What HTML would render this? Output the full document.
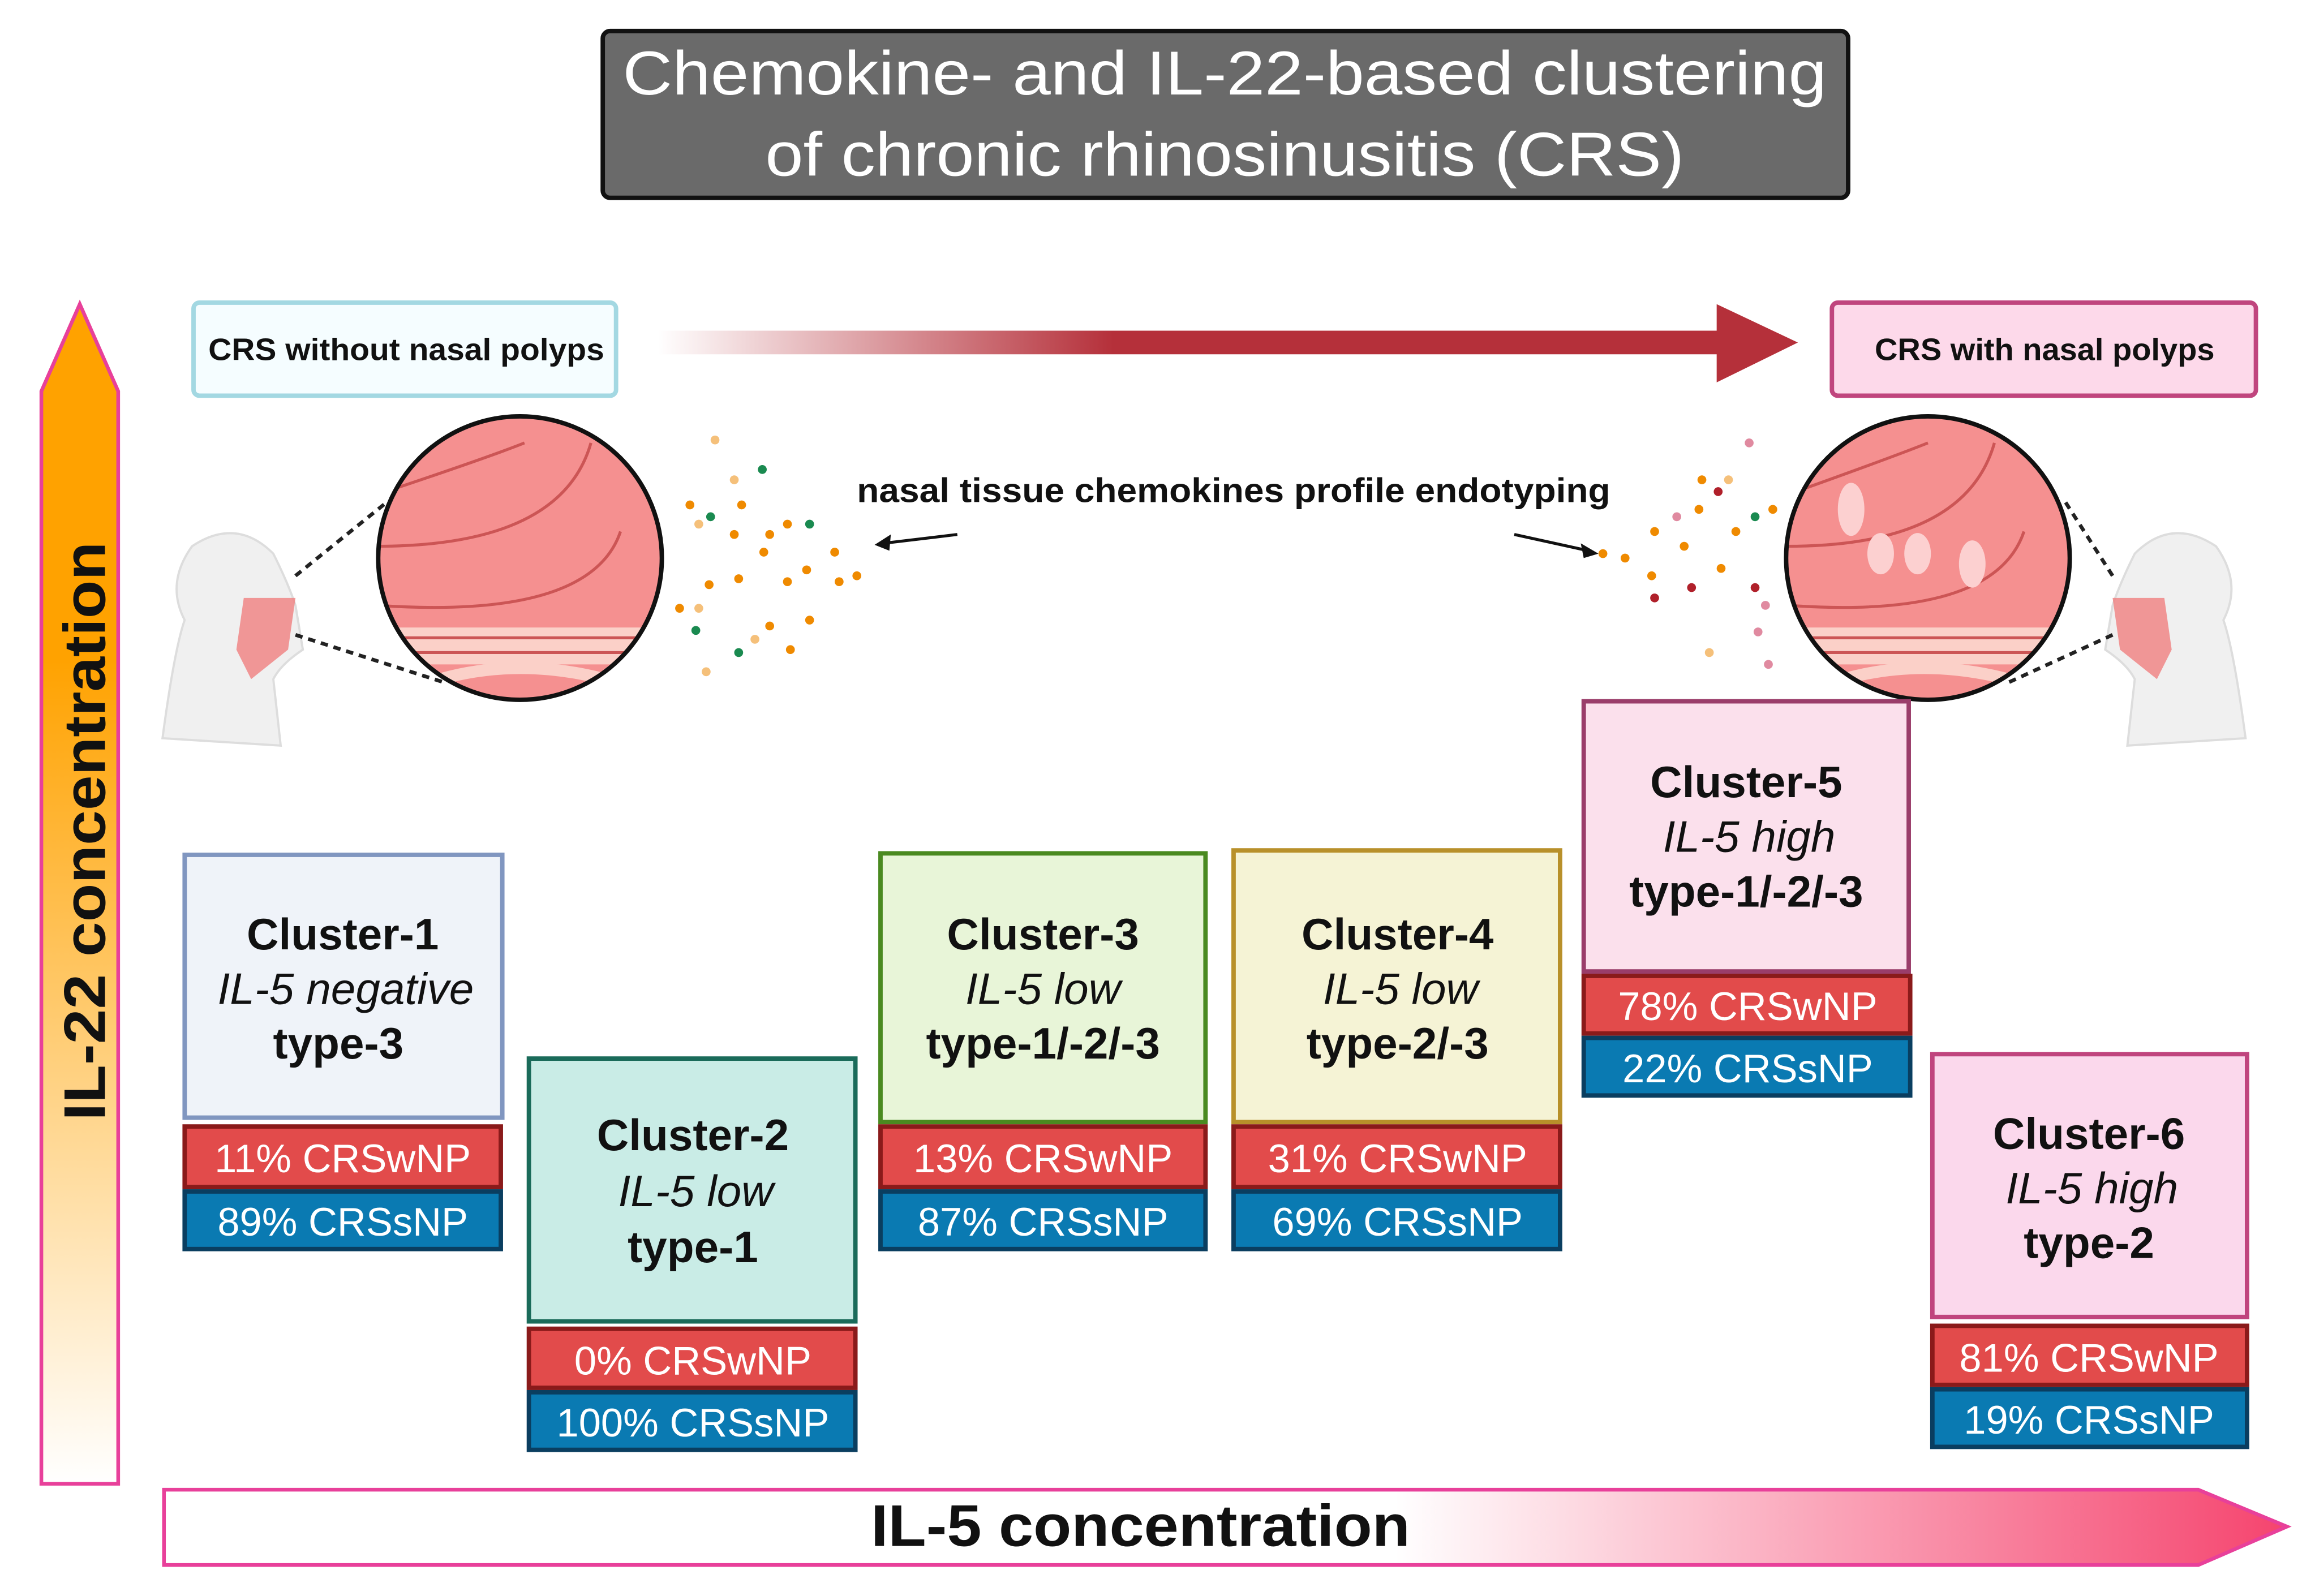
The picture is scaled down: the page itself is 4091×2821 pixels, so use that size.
<!DOCTYPE html>
<html><head><meta charset="utf-8"><style>
html,body{margin:0;padding:0;background:#fff}
svg{display:block}
text{font-family:"Liberation Sans",sans-serif}
</style></head><body>
<svg width="4091" height="2821" viewBox="0 0 1567 1081" preserveAspectRatio="none" xmlns="http://www.w3.org/2000/svg">
<defs>
<linearGradient id="vg" x1="0" y1="0" x2="0" y2="1">
<stop offset="0" stop-color="#ffa200"/><stop offset="0.3" stop-color="#ffa200"/><stop offset="1" stop-color="#ffffff"/></linearGradient>
<linearGradient id="hg" x1="0" y1="0" x2="1" y2="0">
<stop offset="0" stop-color="#fff"/><stop offset="0.58" stop-color="#fff"/><stop offset="1" stop-color="#f5446e"/></linearGradient>
<linearGradient id="rg" x1="0" y1="0" x2="1" y2="0">
<stop offset="0" stop-color="#b5303a" stop-opacity="0"/><stop offset="0.4" stop-color="#b5303a"/><stop offset="1" stop-color="#b5303a"/></linearGradient>
<clipPath id="c1"><ellipse cx="352" cy="378" rx="96" ry="96"/></clipPath>
<clipPath id="c2"><ellipse cx="1305" cy="378" rx="96" ry="96"/></clipPath>
</defs>

<rect x="408" y="21" width="843" height="113" rx="5" fill="#6a6a6a" stroke="#111" stroke-width="3"/>
<text x="829" y="64" font-size="42" fill="#fff" text-anchor="middle" textLength="815" lengthAdjust="spacingAndGlyphs">Chemokine- and IL-22-based clustering</text>
<text x="829" y="119" font-size="42" fill="#fff" text-anchor="middle" textLength="622" lengthAdjust="spacingAndGlyphs">of chronic rhinosinusitis (CRS)</text>

<path d="M28,1005 L28,265 L54,206 L80,265 L80,1005 Z" fill="url(#vg)" stroke="#e8409a" stroke-width="2.5"/>
<text transform="translate(71,563) rotate(-90)" font-size="40" font-weight="bold" text-anchor="middle" fill="#111" textLength="392" lengthAdjust="spacingAndGlyphs">IL-22 concentration</text>

<path d="M111,1009 L1488,1009 L1548,1034 L1488,1060 L111,1060 Z" fill="url(#hg)" stroke="#e8409a" stroke-width="2.5"/>
<text x="772" y="1047" font-size="40" font-weight="bold" text-anchor="middle" fill="#111" textLength="365" lengthAdjust="spacingAndGlyphs">IL-5 concentration</text>

<rect x="131" y="205" width="286" height="63" rx="4" fill="#f5fdff" stroke="#a3d8e2" stroke-width="3"/>
<text x="275" y="244" font-size="21" font-weight="bold" text-anchor="middle" fill="#111" textLength="268" lengthAdjust="spacingAndGlyphs">CRS without  nasal polyps</text>
<rect x="1240" y="205" width="287" height="63" rx="4" fill="#fdd9ea" stroke="#c0457e" stroke-width="3"/>
<text x="1384" y="244" font-size="21" font-weight="bold" text-anchor="middle" fill="#111" textLength="230" lengthAdjust="spacingAndGlyphs">CRS with nasal polyps</text>
<path d="M445,224 L1162,224 L1162,206 L1217,232 L1162,259 L1162,240 L445,240 Z" fill="url(#rg)"/>

<text x="835" y="340" font-size="23" font-weight="bold" text-anchor="middle" fill="#111" textLength="510" lengthAdjust="spacingAndGlyphs">nasal tissue chemokines profile endotyping</text>
<path d="M648,362 L598,368" stroke="#111" stroke-width="2"/><path d="M592,369 L603,362 L602,373 Z" fill="#111"/>
<path d="M1025,362 L1075,373" stroke="#111" stroke-width="2"/><path d="M1082,375 L1070,368 L1072,378 Z" fill="#111"/>

<g fill="#f0f0f0" stroke="#ddd" stroke-width="1.5">
<path d="M110,500 Q118,440 125,420 Q112,395 130,370 Q160,350 185,375 Q195,395 200,410 L205,440 Q190,450 185,460 L190,505 Z"/>
<path d="M1520,500 Q1512,440 1505,420 Q1518,395 1500,370 Q1470,350 1445,375 Q1435,395 1430,410 L1425,440 Q1440,450 1445,460 L1440,505 Z"/>
</g>
<path d="M165,405 L200,405 L195,440 L170,460 L160,440 Z" fill="#f08080" opacity="0.8"/>
<path d="M1465,405 L1430,405 L1435,440 L1460,460 L1470,440 Z" fill="#f08080" opacity="0.8"/>
<path d="M200,390 L262,340 M200,430 L300,462" stroke="#222" stroke-width="2.5" stroke-dasharray="5,4" fill="none"/>
<path d="M1430,390 L1398,340 M1430,430 L1360,462" stroke="#222" stroke-width="2.5" stroke-dasharray="5,4" fill="none"/>

<g clip-path="url(#c1)">
<rect x="250" y="280" width="210" height="200" fill="#f59090"/>
<path d="M255,335 Q330,310 355,300 M255,370 Q380,370 400,300 M255,410 Q400,420 420,360" stroke="#c55" stroke-width="2" fill="none"/>
<path d="M255,425 L450,425 L450,450 L255,450 Z" fill="#fbd0c8"/>
<path d="M255,432 L450,432 M255,442 L450,442" stroke="#c55" stroke-width="2"/>
<path d="M270,470 Q350,435 440,470" stroke="#fbd0c8" stroke-width="8" fill="none"/>
</g>
<ellipse cx="352" cy="378" rx="96" ry="96" fill="none" stroke="#111" stroke-width="3"/>
<g clip-path="url(#c2)">
<rect x="1200" y="280" width="210" height="200" fill="#f59090"/>
<path d="M1210,335 Q1280,310 1305,300 M1210,370 Q1330,370 1350,300 M1210,410 Q1350,420 1370,360" stroke="#c55" stroke-width="2" fill="none"/>
<path d="M1205,425 L1405,425 L1405,450 L1205,450 Z" fill="#fbd0c8"/>
<path d="M1205,432 L1405,432 M1205,442 L1405,442" stroke="#c55" stroke-width="2"/>
<path d="M1220,470 Q1300,435 1390,470" stroke="#fbd0c8" stroke-width="8" fill="none"/>
<ellipse cx="1253" cy="345" rx="9" ry="18" fill="#fcd0d0"/>
<ellipse cx="1273" cy="375" rx="9" ry="14" fill="#fcd0d0"/>
<ellipse cx="1298" cy="375" rx="9" ry="14" fill="#fcd0d0"/>
<ellipse cx="1335" cy="382" rx="9" ry="16" fill="#fcd0d0"/>
</g>
<ellipse cx="1305" cy="378" rx="96" ry="96" fill="none" stroke="#111" stroke-width="3"/>

<g fill="#ef8a00">
<circle cx="467" cy="342" r="3"/><circle cx="497" cy="362" r="3"/><circle cx="517" cy="374" r="3"/><circle cx="500" cy="392" r="3"/><circle cx="521" cy="362" r="3"/><circle cx="480" cy="396" r="3"/><circle cx="533" cy="394" r="3"/><circle cx="565" cy="374" r="3"/><circle cx="546" cy="386" r="3"/><circle cx="568" cy="394" r="3"/><circle cx="580" cy="390" r="3"/><circle cx="460" cy="412" r="3"/><circle cx="521" cy="424" r="3"/><circle cx="548" cy="420" r="3"/><circle cx="535" cy="440" r="3"/><circle cx="502" cy="342" r="3"/><circle cx="533" cy="355" r="3"/>
<circle cx="1150" cy="345" r="3"/><circle cx="1120" cy="360" r="3"/><circle cx="1100" cy="378" r="3"/><circle cx="1140" cy="370" r="3"/><circle cx="1165" cy="385" r="3"/><circle cx="1085" cy="375" r="3"/><circle cx="1118" cy="390" r="3"/><circle cx="1175" cy="360" r="3"/><circle cx="1200" cy="345" r="3"/><circle cx="1152" cy="325" r="3"/>
</g>
<g fill="#f5c07a"><circle cx="484" cy="298" r="3"/><circle cx="497" cy="325" r="3"/><circle cx="473" cy="355" r="3"/><circle cx="473" cy="412" r="3"/><circle cx="511" cy="433" r="3"/><circle cx="478" cy="455" r="3"/><circle cx="1170" cy="325" r="3"/><circle cx="1157" cy="442" r="3"/></g>
<g fill="#1a8a50"><circle cx="516" cy="318" r="3"/><circle cx="481" cy="350" r="3"/><circle cx="548" cy="355" r="3"/><circle cx="500" cy="442" r="3"/><circle cx="471" cy="427" r="3"/><circle cx="1188" cy="350" r="3"/></g>
<g fill="#e08aa0"><circle cx="1184" cy="300" r="3"/><circle cx="1135" cy="350" r="3"/><circle cx="1195" cy="410" r="3"/><circle cx="1190" cy="428" r="3"/><circle cx="1197" cy="450" r="3"/></g>
<g fill="#b0202a"><circle cx="1163" cy="333" r="3"/><circle cx="1145" cy="398" r="3"/><circle cx="1188" cy="398" r="3"/><circle cx="1120" cy="405" r="3"/></g>

<g font-size="30" text-anchor="middle" fill="#111">
<rect x="125" y="579" width="215" height="178" fill="#eff3f9" stroke="#8096c0" stroke-width="3"/>
<text x="232" y="643" font-weight="bold">Cluster-1</text><text x="234" y="680" font-style="italic">IL-5 negative</text><text x="229" y="717" font-weight="bold">type-3</text>
<rect x="358" y="717" width="221" height="178" fill="#c9ece6" stroke="#1a6b5a" stroke-width="3"/>
<text x="469" y="779" font-weight="bold">Cluster-2</text><text x="471" y="817" font-style="italic">IL-5 low</text><text x="469" y="855" font-weight="bold">type-1</text>
<rect x="596" y="578" width="220" height="182" fill="#e8f5d8" stroke="#4a8a20" stroke-width="3"/>
<text x="706" y="643" font-weight="bold">Cluster-3</text><text x="706" y="680" font-style="italic">IL-5 low</text><text x="706" y="717" font-weight="bold">type-1/-2/-3</text>
<rect x="835" y="576" width="221" height="184" fill="#f5f3d5" stroke="#b8902a" stroke-width="3"/>
<text x="946" y="643" font-weight="bold">Cluster-4</text><text x="948" y="680" font-style="italic">IL-5 low</text><text x="946" y="717" font-weight="bold">type-2/-3</text>
<rect x="1072" y="475" width="220" height="183" fill="#fbe0ec" stroke="#9a3d6a" stroke-width="3"/>
<text x="1182" y="540" font-weight="bold">Cluster-5</text><text x="1184" y="577" font-style="italic">IL-5 high</text><text x="1182" y="614" font-weight="bold">type-1/-2/-3</text>
<rect x="1308" y="714" width="213" height="178" fill="#fbd8ec" stroke="#c0457e" stroke-width="3"/>
<text x="1414" y="778" font-weight="bold">Cluster-6</text><text x="1416" y="815" font-style="italic">IL-5 high</text><text x="1414" y="852" font-weight="bold">type-2</text>
</g>
<g fill="#e24b4b" stroke="#8a1a1a" stroke-width="3">
<rect x="125" y="763" width="214" height="41"/><rect x="358" y="900" width="221" height="40"/><rect x="596" y="763" width="220" height="41"/><rect x="835" y="763" width="221" height="41"/><rect x="1072" y="661" width="221" height="39"/><rect x="1308" y="898" width="213" height="40"/>
</g>
<g fill="#0a7ab2" stroke="#0a3e60" stroke-width="3">
<rect x="125" y="807" width="214" height="39"/><rect x="358" y="943" width="221" height="39"/><rect x="596" y="807" width="220" height="39"/><rect x="835" y="807" width="221" height="39"/><rect x="1072" y="703" width="221" height="39"/><rect x="1308" y="941" width="213" height="39"/>
</g>
<g font-size="27" fill="#fff" text-anchor="middle">
<text x="232" y="794">11% CRSwNP</text><text x="232" y="837">89% CRSsNP</text>
<text x="469" y="931">0% CRSwNP</text><text x="469" y="973">100% CRSsNP</text>
<text x="706" y="794">13% CRSwNP</text><text x="706" y="837">87% CRSsNP</text>
<text x="946" y="794">31% CRSwNP</text><text x="946" y="837">69% CRSsNP</text>
<text x="1183" y="691">78% CRSwNP</text><text x="1183" y="733">22% CRSsNP</text>
<text x="1414" y="929">81% CRSwNP</text><text x="1414" y="971">19% CRSsNP</text>
</g>
</svg>
</body></html>
